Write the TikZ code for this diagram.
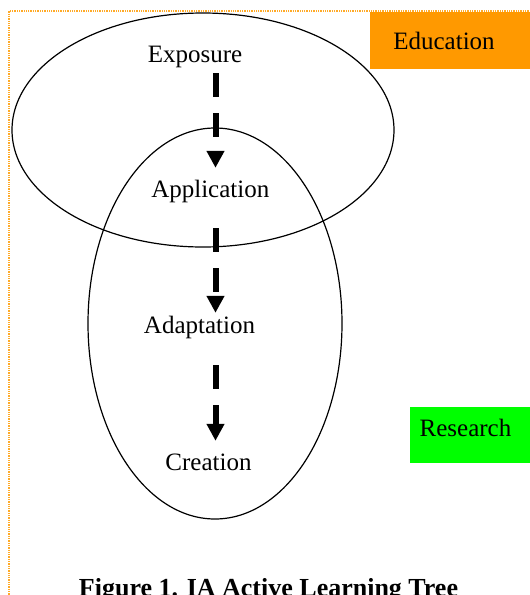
\documentclass[tikz,border=0pt]{standalone}
\usepackage{fontspec}
\setmainfont{Liberation Serif}
\usetikzlibrary{arrows.meta}
\definecolor{eduorange}{RGB}{255,153,0}
\definecolor{resgreen}{RGB}{0,255,0}
\definecolor{frameorange}{RGB}{255,170,40}
\newcommand{\stageLabel}[4]{ \node[stage] (#1) at (#2,#3) {#4}; }
\newcommand{\stageArrow}[4]{ \draw[flow, shorten <=#3pt, shorten >=#4pt]
  (#1.south -| trunk) -- (#2.north -| trunk); }

\begin{document}
\begin{tikzpicture}[x=1pt, y=-1pt,
    stage/.style={font=\fontsize{25}{30}\selectfont, anchor=base,
      inner sep=0pt, text height=17pt, text depth=5pt},
    flow/.style={line width=6pt, dash pattern=on 24pt off 16pt,
      -{Triangle[length=17pt, width=17pt]}}]
  \useasboundingbox (0,0) rectangle (530,595);
  % frame and the two tags
  \draw[frameorange, line width=1.3pt, dash pattern=on 1.3pt off 1pt]
    (540,11) -- (9,11) -- (9,620);
  \fill[eduorange] (370,11.7) rectangle (540,69.3);
  \fill[resgreen] (410,407.3) rectangle (540,463.3);
  \stageLabel{education}{444}{49}{Education}
  \stageLabel{research}{465.5}{436}{Research}
  % the two ellipses
  \draw[line width=1.2pt] (203,130) ellipse [x radius=191pt, y radius=117pt];
  \draw[line width=1.2pt] (215,323.5) ellipse [x radius=127pt, y radius=195.5pt];
  % stages
  \coordinate (trunk) at (215.5,0);
  \stageLabel{exposure}{195}{62}{Exposure}
  \stageLabel{application}{210.3}{197.7}{Application}
  \stageLabel{adaptation}{199.5}{333.3}{Adaptation}
  \stageLabel{creation}{208.5}{470}{Creation}
  \stageArrow{exposure}{application}{6}{12.7}
  \stageArrow{application}{adaptation}{25.3}{3.3}
  \stageArrow{adaptation}{creation}{26.7}{12}
  \node[font=\fontsize{26}{31}\selectfont\bfseries, anchor=base, inner sep=0pt]
    (caption) at (268.5,596) {Figure 1. IA Active Learning Tree};
\end{tikzpicture}
\end{document}
